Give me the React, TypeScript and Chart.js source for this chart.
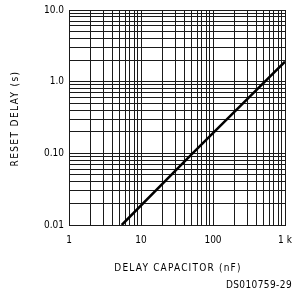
import React, { useEffect, useRef } from 'react';
import { Chart, registerables } from 'chart.js';

Chart.register(...registerables);

// Data
const capacitanceNF = [5.4, 52, 525, 1000];
const resetDelayS = [0.01, 0.1, 1.0, 1.9];

// Log grid tick positions and labels
const xTickValues = [1, 2, 3, 4, 5, 6, 7, 8, 9, 10, 20, 30, 40, 50, 60, 70, 80, 90, 100, 200, 300, 400, 500, 600, 700, 800, 900, 1000];
const xTickLabels = ['1', '', '', '', '', '', '', '', '', '10', '', '', '', '', '', '', '', '', '100', '', '', '', '', '', '', '', '', '1 k'];
const yTickValues = [0.01, 0.02, 0.03, 0.04, 0.05, 0.06, 0.07, 0.08, 0.09, 0.1, 0.2, 0.3, 0.4, 0.5, 0.6, 0.7, 0.8, 0.9, 1, 2, 3, 4, 5, 6, 7, 8, 9, 10];
const yTickLabels = ['0.01', '', '', '', '', '', '', '', '', '0.10', '', '', '', '', '', '', '', '', '1.0', '', '', '', '', '', '', '', '', '10.0'];

const xTitle = 'DELAY CAPACITOR (nF)';
const yTitle = 'RESET DELAY (s)';
const docId = 'DS010759-29';

const FONT = '"DejaVu Sans Condensed", "DejaVu Sans", sans-serif';

export default function App() {
  const ref = useRef<HTMLCanvasElement | null>(null);

  useEffect(() => {
    if (!ref.current) return;
    const titlePlugin = {
      id: 'titles',
      afterDraw(chart: any) {
        const ctx = chart.ctx;
        const a = chart.chartArea;
        ctx.save();
        ctx.fillStyle = '#000';
        ctx.font = `10px ${FONT}`;
        ctx.textAlign = 'center';
        ctx.textBaseline = 'middle';
        (ctx as any).letterSpacing = '1.2px';
        ctx.fillText(xTitle, (a.left + a.right) / 2 + 1, 268);
        ctx.save();
        (ctx as any).letterSpacing = '1.4px';
        ctx.translate(15, (a.top + a.bottom) / 2 + 1);
        ctx.rotate(-Math.PI / 2);
        ctx.fillText(yTitle, 0, 0);
        ctx.restore();
        (ctx as any).letterSpacing = '0.4px';
        ctx.textAlign = 'right';
        ctx.fillText(docId, 292, 285);
        ctx.restore();
      },
    };

    const chart = new Chart(ref.current, {
      type: 'line',
      data: {
        datasets: [
          {
            data: capacitanceNF.map((x, i) => ({ x, y: resetDelayS[i] })),
            borderColor: '#000',
            borderWidth: 2.5,
            pointRadius: 0,
            tension: 0,
          },
        ],
      },
      options: {
        responsive: false,
        animation: false,
        devicePixelRatio: 1,
        layout: { padding: { left: 0, right: 7, top: 10, bottom: 0 } },
        plugins: { legend: { display: false }, tooltip: { enabled: false } },
        scales: {
          x: {
            type: 'logarithmic',
            min: 1,
            max: 1000,
            afterBuildTicks: (scale: any) => {
              scale.ticks = xTickValues.map((v) => ({ value: v }));
            },
            afterFit: (scale: any) => {
              scale.height = 65;
              scale.paddingLeft = 0;
              scale.paddingRight = 0;
            },
            grid: { color: '#1a1a1a', lineWidth: 1, drawTicks: false },
            border: { display: true, color: '#1a1a1a' },
            ticks: {
              autoSkip: false,
              maxRotation: 0,
              padding: 9,
              color: '#000',
              font: { family: FONT, size: 10 },
              callback: (_v: any, i: number) => xTickLabels[i],
            },
          },
          y: {
            type: 'logarithmic',
            min: 0.01,
            max: 10,
            afterBuildTicks: (scale: any) => {
              scale.ticks = yTickValues.map((v) => ({ value: v }));
            },
            afterFit: (scale: any) => {
              scale.width = 69;
              scale.paddingTop = 0;
              scale.paddingBottom = 0;
            },
            grid: { color: '#1a1a1a', lineWidth: 1, drawTicks: false },
            border: { display: true, color: '#1a1a1a' },
            ticks: {
              autoSkip: false,
              padding: 5,
              color: '#000',
              font: { family: FONT, size: 10 },
              callback: (_v: any, i: number) => yTickLabels[i],
            },
          },
        },
      },
      plugins: [titlePlugin],
    } as any);
    return () => chart.destroy();
  }, []);

  return (
    <div style={{ position: 'absolute', left: 0, top: 0, width: 292, height: 290, background: '#fff' }}>
      <canvas ref={ref} width={292} height={290} style={{ display: 'block' }} />
    </div>
  );
}
